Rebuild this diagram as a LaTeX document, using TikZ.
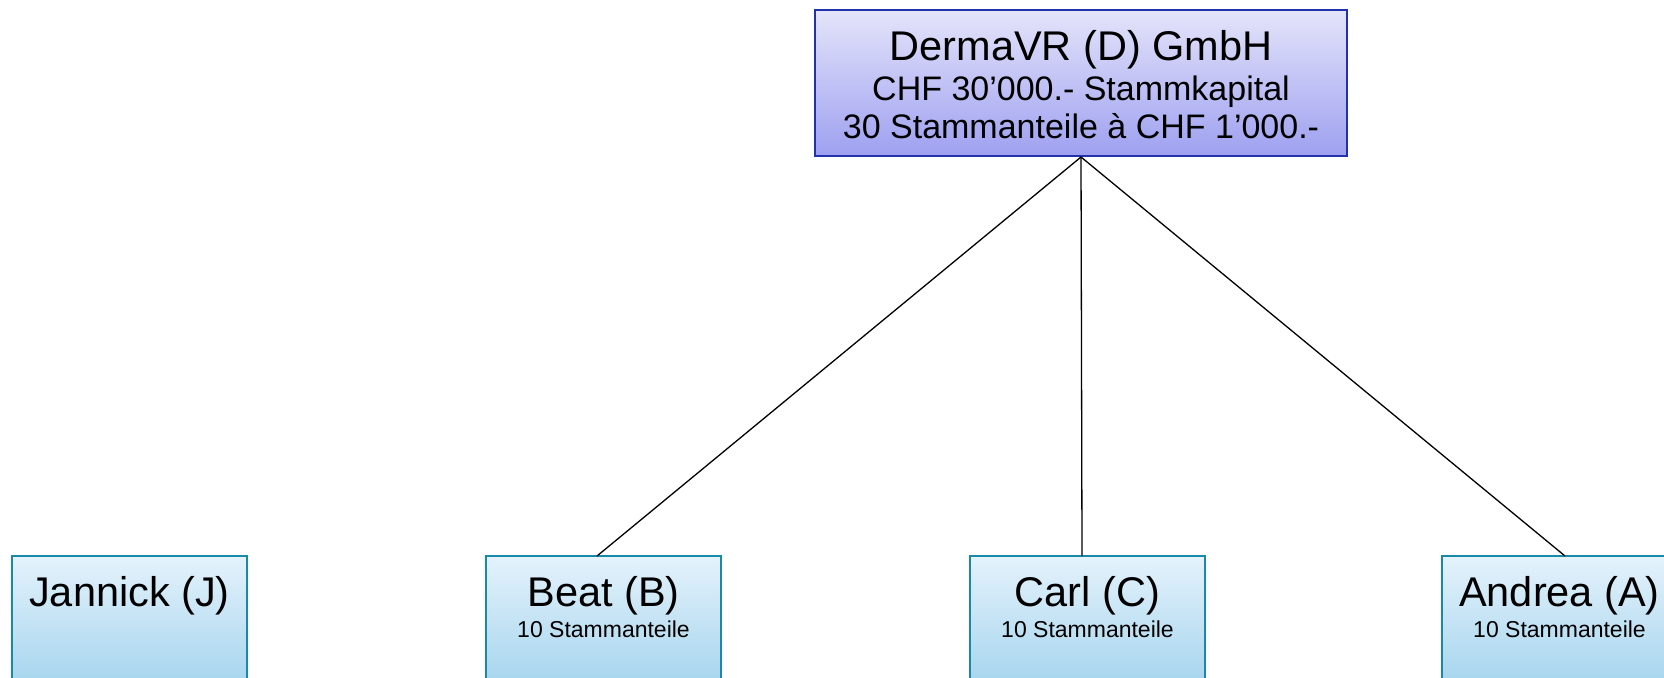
\documentclass[tikz,border=0pt]{standalone}
\usepackage{fontspec}
\setmainfont{Liberation Sans}
\usepackage{tikz}
\usetikzlibrary{calc}
\definecolor{firmBorder}{RGB}{34, 50, 172}
\definecolor{firmTop}{RGB}{228, 228, 250}
\definecolor{firmBottom}{RGB}{158, 160, 240}
\definecolor{personBorder}{RGB}{24, 138, 168}
\definecolor{personTop}{RGB}{228, 242, 251}
\definecolor{personBottom}{RGB}{164, 212, 238}

\begin{document}
\begin{tikzpicture} [
        x=0.5pt, y=-0.5pt,
        firm/.style={draw=firmBorder, line width=1pt, top color=firmTop, bottom color=firmBottom, minimum width=266pt, minimum height=73pt, inner sep=0pt},
        person/.style={draw=personBorder, line width=1pt, top color=personTop, bottom color=personBottom, minimum width=117.5pt, minimum height=66pt, anchor=north, inner sep=0pt},
        big text/.style={anchor=base, inner sep=0pt, font=\fontsize{20.75}{24}\selectfont},
        mid text/.style={anchor=base, inner sep=0pt, font=\fontsize{17}{20}\selectfont},
        small text/.style={anchor=base, inner sep=0pt, font=\fontsize{11.5}{14}\selectfont},
        link/.style={draw=black, line width=0.65pt}
    ]

    \clip (0,0) rectangle (1664,677);

    \draw node[firm] (derma) at (1081,83) {};
    \node[big text] (derma title) at ([yshift=-25.5pt]derma.north) {DermaVR (D) GmbH};
    \node[mid text] (derma capital) at ([yshift=-45.5pt]derma.north) {CHF 30’000.- Stammkapital};
    \node[mid text] (derma shares) at ([yshift=-64.5pt]derma.north) {30 Stammanteile à CHF 1’000.-};

    \draw node[person] (jannick) at (129.5,555) {};
    \node[big text] (jannick title) at ([yshift=-25.5pt]jannick.north) {Jannick (J)};

    \foreach \who/\cx/\title/\dx in {beat/603.5/Beat (B)/-3.25, carl/1087.5/Carl (C)/-2.75, andrea/1559.5/Andrea (A)/2.75} {
        \draw node[person] (\who) at (\cx,555) {};
        \node[big text] (\who\space title) at ([yshift=-25.5pt]\who.north) {\title};
        \node[small text] (\who\space shares) at ([yshift=-41pt]\who.north) {10 Stammanteile};
        \draw[link] (derma.south) -- ([xshift=\dx pt, yshift=-0.5pt]\who.north);
    }

\end{tikzpicture}
\end{document}
